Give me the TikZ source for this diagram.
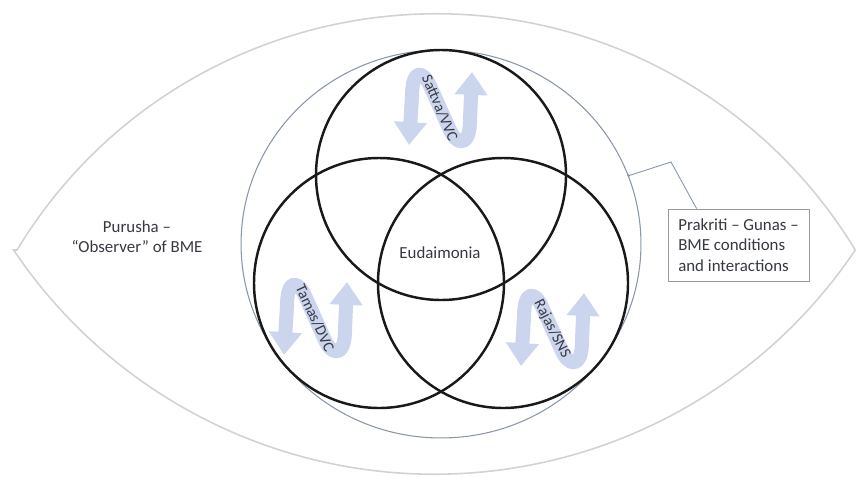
\documentclass[tikz,border=0pt]{standalone}
\usepackage{fontspec}
\setmainfont{Carlito}
\usepackage{tikz}
\usetikzlibrary{arrows.meta, shapes.geometric}

\definecolor{eyegray}{RGB}{210,210,210}
\definecolor{ringblue}{RGB}{135,150,170}
\definecolor{gunablue}{RGB}{204,213,238}
\definecolor{labeltext}{RGB}{55,57,66}

\tikzset{
    eyeline/.style={draw=eyegray, line width=0.9pt},
    prakriti ring/.style={ellipse, draw=ringblue, line width=0.6pt, inner sep=0pt,
                          minimum width=8cm, minimum height=7.76cm},
    venn/.style={draw=black!90, line width=1.4pt},
    guna arrow/.style={draw=gunablue, line width=8pt, line join=round,
                       {Triangle[width=18pt,length=13pt]}-{Triangle[width=18pt,length=13pt]}},
    textlabel/.style={text=labeltext, font=\fontsize{9.6}{11.5}\selectfont, align=center},
    gunalabel/.style={text=labeltext, font=\fontsize{8.8}{10}\selectfont, inner sep=0pt},
    gunas box/.style={draw=black!40, line width=0.5pt, fill=white, text=labeltext,
                      font=\fontsize{9.6}{11.5}\selectfont, align=left,
                      minimum width=2.82cm, minimum height=1.44cm}
}

\begin{document}
\begin{tikzpicture}[x=0.02cm, y=-0.02cm]
    \useasboundingbox (0,0) rectangle (858,477);

    % eye outline
    \draw[eyeline] (17,250) arc[start angle=-148.8, end angle=-31.2, radius=490]
        arc[start angle=33.9, end angle=146.1, radius=507] -- cycle;

    % prakriti ring
    \node[prakriti ring] (ring) at (441,244) {};

    % guna arrows with their labels
    \foreach \cx/\cy/\ang/\lbl/\nm in {440/108/-67/{Sattva/VVC}/sattva,
                                      315/318/-65/{Tamas/DVC}/tamas,
                                      552/329/-63/{Rajas/SNS}/rajas} {
        \draw[guna arrow, shift={(\cx,\cy)}] (-31,37) -- (-28,-12)
            .. controls (-28,-39) and (-17,-39) .. (-9,-20) -- (9,20)
            .. controls (17,39) and (30,39) .. (30,12) -- (32,-36);
        \node[gunalabel, rotate=\ang] (\nm) at (\cx,\cy) {\lbl};
    }

    % venn circles
    \foreach \x/\y in {441/175, 379/283, 503/283} {
        \draw[venn] (\x,\y) circle[radius=125];
    }

    \node[textlabel] (eudaimonia) at (440,253) {Eudaimonia};
    \node[textlabel] (purusha) at (137,237) {Purusha –\\“Observer” of BME};

    % callout to the gunas box
    \node[gunas box] (prakriti) at (738.5,245) {Prakriti – Gunas –\\BME conditions\\and interactions};
    \coordinate (elbow) at (671,162);
    \fill[ringblue] (ring.20) circle[radius=1.5];
    \draw[ringblue, line width=0.5pt] (ring.20) -- (elbow) -- (prakriti.139);
\end{tikzpicture}
\end{document}
